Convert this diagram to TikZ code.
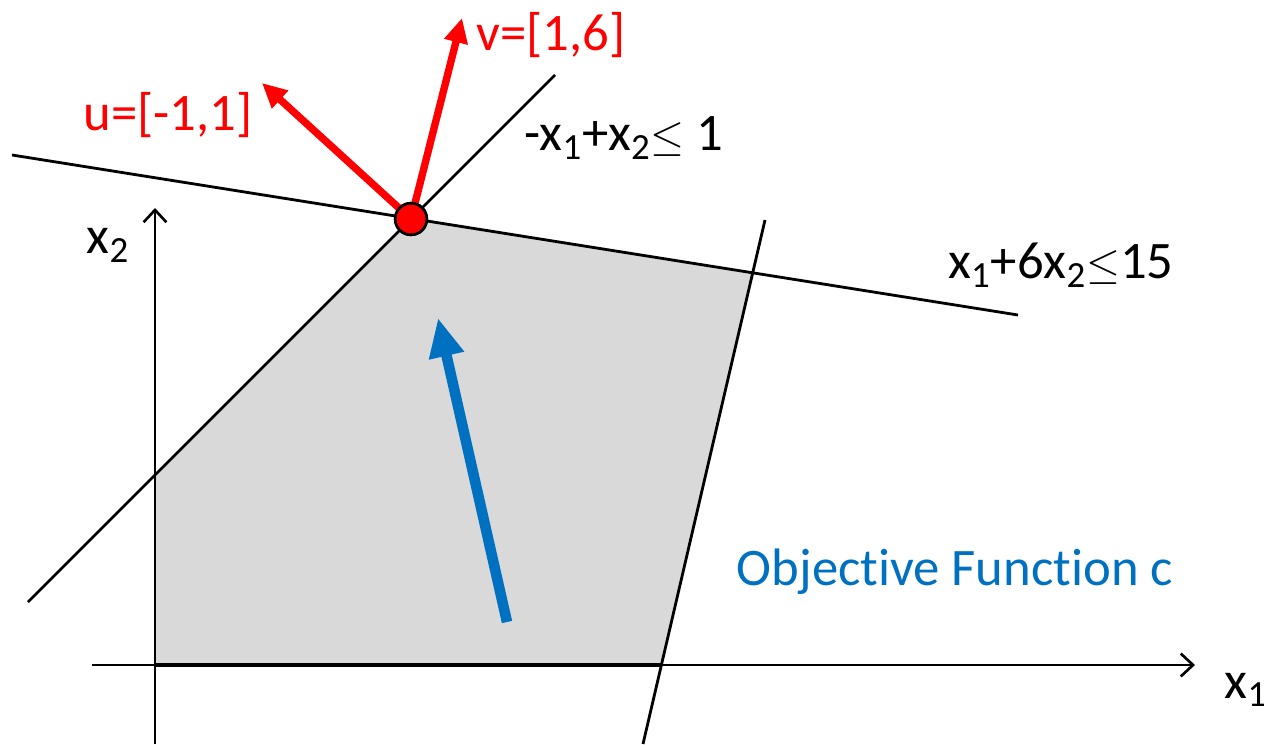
\documentclass[tikz,border=0pt]{standalone}
\usepackage{fontspec}
\setmainfont{Carlito}[Ligatures={NoCommon}]
\usetikzlibrary{arrows.meta}
\definecolor{regiongray}{HTML}{D9D9D9}
\definecolor{objblue}{HTML}{0070C0}
\definecolor{vecred}{HTML}{FF0000}

\begin{document}
\begin{tikzpicture}[
    x=0.02cm, y=-0.02cm,
    constraint/.style={line width=1.6pt},
    axis/.style={line width=1.5pt, -{Straight Barb[length=7pt, width=13pt]}},
    vec/.style={vecred, line width=4.2pt, -{Triangle[length=14pt, width=13pt]}},
    objective/.style={objblue, line width=6pt, -{Triangle[length=22pt, width=19pt]}},
    label/.style={font=\fontsize{30}{36}\selectfont, inner sep=0pt},
    vertex/.style={circle, draw, fill=vecred, line width=1.5pt, minimum size=18pt, inner sep=0pt}
]
\useasboundingbox (0,0) rectangle (1264,744);

% Feasible region
\coordinate (o) at (155,665);
\coordinate (r1) at (155,475);
\coordinate (r2) at (411,219);
\coordinate (r3) at (752,272);
\coordinate (r4) at (661,665);
\fill[regiongray] (o) -- (r1) -- (r2) -- (r3) -- (r4) -- cycle;
\draw[line width=2.4pt] (o) -- (r4);

% Axes
\coordinate (xa0) at (92,665);
\coordinate (xa1) at (1195,665);
\coordinate (ya0) at (155,744);
\coordinate (ya1) at (155,208);
\draw[axis] (xa0) -- (xa1);
\draw[axis] (ya0) -- (ya1);

% Constraint lines
\coordinate (c1a) at (28,602);
\coordinate (c1b) at (555,75);
\coordinate (c2a) at (12,155);
\coordinate (c2b) at (1018,315);
\coordinate (c3a) at (765,220);
\coordinate (c3b) at (643,744);
\draw[constraint] (c1a) -- (c1b);
\draw[constraint] (c2a) -- (c2b);
\draw[constraint] (c3a) -- (c3b);

% Vectors at the optimal vertex
\node[vertex] (opt) at (r2) {};
\coordinate (utip) at (262,83);
\coordinate (vtip) at (462,18);
\draw[vec] (opt.center) -- (utip);
\draw[vec] (opt.center) -- (vtip);
\node[vertex] at (opt) {};

% Objective direction
\coordinate (cbase) at (507,622);
\coordinate (ctip) at (438,318);
\draw[objective] (cbase) -- (ctip);

% Labels
\node[label, vecred] (ulabel) at (168,115) {u=[-1,1]};
\node[label, vecred] (vlabel) at (551,35) {v=[1,6]};
\node[label] (c1label) at (624,138) {-x\textsubscript{1}+x\textsubscript{2}$\leq$ 1};
\node[label] (c2label) at (1061,265) {x\textsubscript{1}+6x\textsubscript{2}$\leq$15};
\node[label] (x1label) at (1246,690) {x\textsubscript{1}};
\node[label] (x2label) at (108,245) {x\textsubscript{2}};
\node[label, objblue] (objlabel) at (955,572) {Objective Function c};

\end{tikzpicture}
\end{document}
